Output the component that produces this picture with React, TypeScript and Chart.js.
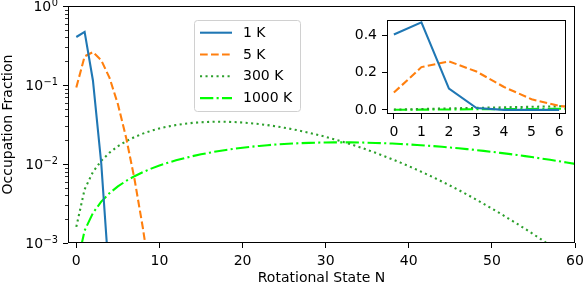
import React, { useEffect, useRef } from 'react';
import { Chart, registerables } from 'chart.js';

Chart.register(...registerables);

// ---------- data ----------
const seriesLabels = ['1 K', '5 K', '300 K', '1000 K'];

const states1K = [0, 1, 2, 3, 4, 5, 6];
const frac1K = [0.405, 0.47, 0.114, 0.0102, 0.00031, 0.0000035, 0.000000015];

const states5K = [0, 1, 2, 3, 4, 5, 6, 7, 8, 9, 10, 11];
const frac5K = [0.093, 0.23, 0.261, 0.206, 0.123, 0.0574, 0.0214, 0.00645, 0.00157, 0.000312, 0.0000507, 0.0000068];

const statesWide = [
  0, 1, 2, 3, 4, 5, 6, 7, 8, 9,
  10, 11, 12, 13, 14, 15, 16, 17, 18, 19,
  20, 21, 22, 23, 24, 25, 26, 27, 28, 29,
  30, 31, 32, 33, 34, 35, 36, 37, 38, 39,
  40, 41, 42, 43, 44, 45, 46, 47, 48, 49,
  50, 51, 52, 53, 54, 55, 56, 57, 58, 59, 60,
];
const frac300K = [
  0.0016, 0.00478, 0.00792, 0.01098, 0.01394, 0.01677, 0.01944, 0.02193, 0.02423, 0.02631,
  0.02816, 0.02978, 0.03115, 0.03227, 0.03314, 0.03377, 0.03415, 0.0343, 0.03423, 0.03395,
  0.03348, 0.03283, 0.03202, 0.03108, 0.03, 0.02883, 0.02756, 0.02624, 0.02486, 0.02345,
  0.02203, 0.0206, 0.01919, 0.0178, 0.01644, 0.01512, 0.01386, 0.01264, 0.0115, 0.01041,
  0.00939, 0.00844, 0.00755, 0.00674, 0.00599, 0.0053, 0.00468, 0.00411, 0.0036, 0.00314,
  0.00273, 0.00237, 0.00204, 0.00176, 0.00151, 0.00129, 0.0011, 0.000929, 0.000784, 0.00066, 0.000555,
];
const frac1000K = [
  0.00048, 0.001438, 0.002393, 0.00334, 0.004278, 0.005204, 0.006115, 0.007008, 0.007882, 0.008733,
  0.00956, 0.010361, 0.011133, 0.011874, 0.012583, 0.013259, 0.013899, 0.014503, 0.015069, 0.015596,
  0.016084, 0.016532, 0.01694, 0.017306, 0.017631, 0.017916, 0.01816, 0.018363, 0.018526, 0.01865,
  0.018735, 0.018781, 0.018791, 0.018765, 0.018706, 0.018611, 0.018485, 0.018329, 0.018144, 0.017931,
  0.017692, 0.017429, 0.017143, 0.016837, 0.016512, 0.016169, 0.015811, 0.015438, 0.015053, 0.014658,
  0.014253, 0.013841, 0.013423, 0.013002, 0.012574, 0.012146, 0.011718, 0.011291, 0.010865, 0.010442, 0.010022,
];

const mainXTicks = [0, 10, 20, 30, 40, 50, 60];
const mainYTicks = [0.001, 0.01, 0.1, 1];
const mainYTickBase = '10';
const mainYTickExponents = ['−3', '−2', '−1', '0'];
const insetXTicks = [0, 1, 2, 3, 4, 5, 6];
const insetYTicks = [0, 0.2, 0.4];
const insetYTickLabels = ['0.0', '0.2', '0.4'];

// ---------- styles ----------
const FONT = "'DejaVu Sans', 'Noto Sans', sans-serif";
const LW = 2.08;
const styles = [
  { color: '#1f77b4', dash: [] as number[] },
  { color: '#ff7f0e', dash: [7.7, 3.3] },
  { color: '#2ca02c', dash: [2.08, 3.43] },
  { color: '#00ff00', dash: [13.3, 3.3, 2.08, 3.3] },
];

const pts = (xs: number[], ys: number[]) => xs.map((x, i) => ({ x, y: ys[i] }));

function makeDatasets() {
  const series = [
    pts(states1K, frac1K),
    pts(states5K, frac5K),
    pts(statesWide, frac300K),
    pts(statesWide, frac1000K),
  ];
  return series.map((data, i) => ({
    label: seriesLabels[i],
    data,
    borderColor: styles[i].color,
    backgroundColor: styles[i].color,
    borderWidth: LW,
    borderDash: styles[i].dash,
    borderCapStyle: 'butt' as const,
    pointRadius: 0,
    fill: false,
    tension: 0,
  }));
}

const frame = {
  id: 'frame',
  beforeDraw(chart: any) {
    const a = chart.chartArea;
    const ctx = chart.ctx;
    ctx.save();
    ctx.fillStyle = '#ffffff';
    ctx.fillRect(a.left, a.top, a.right - a.left, a.bottom - a.top);
    ctx.restore();
  },
  afterDraw(chart: any) {
    const a = chart.chartArea;
    const ctx = chart.ctx;
    ctx.save();
    ctx.strokeStyle = '#000';
    ctx.lineWidth = 1;
    ctx.setLineDash([]);
    ctx.strokeRect(a.left + 0.5, a.top + 0.5, a.right - a.left - 1, a.bottom - a.top - 1);
    ctx.restore();
  },
};

const logAxisDecor = {
  id: 'logAxisDecor',
  afterDraw(chart: any) {
    const ys = chart.scales.y;
    const a = chart.chartArea;
    const ctx = chart.ctx;
    ctx.save();
    // minor ticks
    ctx.strokeStyle = '#000';
    ctx.lineWidth = 0.8;
    for (const d of [0.001, 0.01, 0.1]) {
      for (let k = 2; k <= 9; k++) {
        const y = Math.round(ys.getPixelForValue(k * d)) + 0.5;
        ctx.beginPath();
        ctx.moveTo(a.left - 3, y);
        ctx.lineTo(a.left, y);
        ctx.stroke();
      }
    }
    // major tick labels 10^n (mathtext-like)
    ctx.fillStyle = '#000';
    ctx.textBaseline = 'alphabetic';
    ctx.textAlign = 'left';
    const right = a.left - 10;
    mainYTicks.forEach((v, i) => {
      const y = ys.getPixelForValue(v);
      const exp = mainYTickExponents[i];
      ctx.font = `9.8px ${FONT}`;
      const we = ctx.measureText(exp).width;
      ctx.font = `14px ${FONT}`;
      const wb = ctx.measureText(mainYTickBase).width;
      const x0 = right - we - wb - 0.5;
      const base = y + 5.1;
      ctx.fillText(mainYTickBase, x0, base);
      ctx.font = `9.8px ${FONT}`;
      ctx.fillText(exp, x0 + wb + 0.5, base - 5.6);
    });
    ctx.restore();
  },
};

const boxLegend = {
  id: 'boxLegend',
  afterDraw(chart: any) {
    const ctx = chart.ctx;
    ctx.save();
    ctx.beginPath();
    ctx.roundRect(194.5, 20.5, 106, 91, 3);
    ctx.fillStyle = 'rgba(255,255,255,0.8)';
    ctx.fill();
    ctx.strokeStyle = '#d0d0d0';
    ctx.lineWidth = 1;
    ctx.stroke();
    chart.data.datasets.forEach((ds: any, i: number) => {
      const y = 32.7 + i * 21.8;
      ctx.setLineDash(ds.borderDash || []);
      ctx.strokeStyle = ds.borderColor;
      ctx.lineWidth = ds.borderWidth;
      ctx.lineCap = 'butt';
      ctx.beginPath();
      ctx.moveTo(200, y);
      ctx.lineTo(232, y);
      ctx.stroke();
      ctx.setLineDash([]);
      ctx.fillStyle = '#000';
      ctx.font = `14px ${FONT}`;
      ctx.textBaseline = 'middle';
      ctx.textAlign = 'left';
      ctx.fillText(ds.label, 243, y + 0.5);
    });
    ctx.restore();
  },
};

const tickFont = { family: FONT, size: 14 };
const gridOpts = {
  display: true,
  drawOnChartArea: false,
  drawTicks: true,
  tickLength: 5,
  color: '#000',
  lineWidth: 1,
};

export default function App() {
  const mainRef = useRef<HTMLCanvasElement>(null);
  const insetRef = useRef<HTMLCanvasElement>(null);

  useEffect(() => {
    document.body.style.margin = '0';
    const main = new Chart(mainRef.current as HTMLCanvasElement, {
      type: 'line',
      data: { datasets: makeDatasets() as any },
      options: {
        animation: false,
        responsive: false,
        devicePixelRatio: 1,
        layout: { padding: { left: 0, top: 6, right: 10, bottom: 0 } },
        plugins: { legend: { display: false }, tooltip: { enabled: false } },
        scales: {
          x: {
            type: 'linear',
            min: -1,
            max: 60,
            border: { display: false },
            grid: gridOpts,
            ticks: { color: '#000', font: tickFont, padding: 5, maxRotation: 0, autoSkip: false },
            title: { display: true, text: 'Rotational State N', color: '#000', font: tickFont, padding: 0 },
            afterBuildTicks: (s: any) => { s.ticks = mainXTicks.map((v) => ({ value: v })); },
            afterFit: (s: any) => { s.height = 44; s.paddingLeft = 0; s.paddingRight = 0; },
          },
          y: {
            type: 'logarithmic',
            min: 0.001,
            max: 1,
            border: { display: false },
            grid: gridOpts,
            ticks: { display: false, autoSkip: false },
            title: { display: true, text: 'Occupation Fraction', color: '#000', font: tickFont, padding: 0 },
            afterBuildTicks: (s: any) => { s.ticks = mainYTicks.map((v) => ({ value: v })); },
            afterFit: (s: any) => { s.width = 68; s.paddingTop = 0; s.paddingBottom = 0; },
          },
        },
      } as any,
      plugins: [frame, logAxisDecor, boxLegend],
    });

    const inset = new Chart(insetRef.current as HTMLCanvasElement, {
      type: 'line',
      data: { datasets: makeDatasets() as any },
      options: {
        animation: false,
        responsive: false,
        devicePixelRatio: 1,
        layout: { padding: { left: 0, top: 20, right: 19, bottom: 0 } },
        plugins: { legend: { display: false }, tooltip: { enabled: false } },
        scales: {
          x: {
            type: 'linear',
            min: -0.25,
            max: 6.25,
            border: { display: false },
            grid: gridOpts,
            ticks: { color: '#000', font: tickFont, padding: 5, maxRotation: 0, autoSkip: false },
            afterBuildTicks: (s: any) => { s.ticks = insetXTicks.map((v) => ({ value: v })); },
            afterFit: (s: any) => { s.height = 26; s.paddingLeft = 0; s.paddingRight = 0; },
          },
          y: {
            type: 'linear',
            min: -0.022,
            max: 0.483,
            border: { display: false },
            grid: gridOpts,
            ticks: {
              color: '#000',
              font: tickFont,
              padding: 5,
              autoSkip: false,
              callback: (_v: any, i: number) => insetYTickLabels[i],
            },
            afterBuildTicks: (s: any) => { s.ticks = insetYTicks.map((v) => ({ value: v })); },
            afterFit: (s: any) => { s.width = 47; s.paddingTop = 0; s.paddingBottom = 0; },
          },
        },
      } as any,
      plugins: [frame],
    });

    return () => {
      main.destroy();
      inset.destroy();
    };
  }, []);

  return (
    <div style={{ position: 'absolute', left: 0, top: 0, width: 585, height: 287 }}>
      <canvas ref={mainRef} width={585} height={287} style={{ position: 'absolute', left: 0, top: 0 }} />
      <canvas ref={insetRef} width={245} height={140} style={{ position: 'absolute', left: 340, top: 0 }} />
    </div>
  );
}
